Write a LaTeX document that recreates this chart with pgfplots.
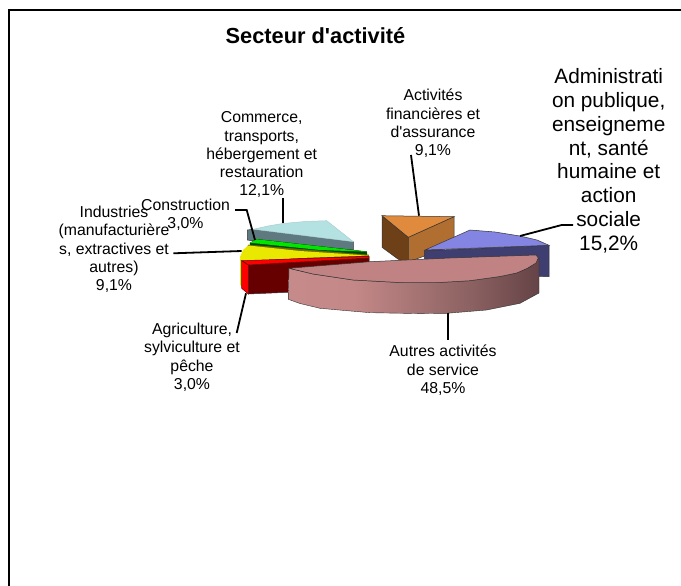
\documentclass[border=0pt]{standalone}
\usepackage{fontspec}
\setmainfont{Liberation Sans}
\newfontfamily\plainf{Liberation Sans}
\usepackage{pgfplots}
\pgfplotsset{compat=1.18}

\definecolor{commtop}{HTML}{B4E2E2}
\definecolor{commside}{HTML}{5E7A80}
\definecolor{gtop}{HTML}{00E400}
\definecolor{gside}{HTML}{004800}
\definecolor{ytop}{HTML}{E8E800}
\definecolor{yside}{HTML}{6E6E00}
\definecolor{rtop}{HTML}{FF0000}
\definecolor{rside}{HTML}{660000}
\definecolor{otop}{HTML}{DF8A3C}
\definecolor{oleft}{HTML}{6E4018}
\definecolor{oright}{HTML}{B06E30}
\definecolor{btop}{HTML}{8484E2}
\definecolor{bside}{HTML}{3E3E70}
\definecolor{ptop}{HTML}{C08282}
\definecolor{edge}{HTML}{333333}
\definecolor{sa}{HTML}{CA8E8E}
\definecolor{sb}{HTML}{C48888}
\definecolor{sc}{HTML}{8A6060}
\definecolor{sd}{HTML}{5C3C40}
\definecolor{se}{HTML}{5C4044}
\pgfdeclarehorizontalshading{sideshade}{100bp}{
  color(0bp)=(sa);
  color(38bp)=(sb);
  color(62bp)=(sc);
  color(78bp)=(sd);
  color(100bp)=(se)}

\newcommand{\lab}{\plainf\fontsize{15.8}{18.3}\selectfont}
\newcommand{\labbig}{\plainf\fontsize{20.8}{23.8}\selectfont}
\tikzset{
  slice/.style={draw=edge, line width=0.5pt},
  leader/.style={draw=black, line width=1.8pt},
  txt/.style={align=center, inner sep=0pt, text=black},
}

\begin{document}
\begin{tikzpicture}
\useasboundingbox (0,0) rectangle (681pt,586pt);
\begin{axis}[
  at={(0,0)}, anchor=south west,
  scale only axis, width=681pt, height=586pt,
  xmin=0, xmax=681, ymin=0, ymax=586, y dir=reverse,
  hide axis, clip=false,
  every axis plot/.append style={no marks, forget plot},
]
% cadre
\addplot[draw=black, line width=2pt] coordinates {(9,586) (9,10) (681,10)};

% commerce
\addplot[slice, fill=commside] coordinates {(247.3,230) (253.3,229.3) (353.3,241.7) (353.3,250) (300,248) (247.3,240)} -- cycle;
\addplot[slice, draw=commtop!80!gray, fill=commtop] coordinates {(253.3,229.3) (268,226) (283,223.5) (305,221.5) (326.7,220.7) (353.3,241.7)} -- cycle;
% construction
\addplot[slice, draw=gside, fill=gside] coordinates {(250,243) (256.7,239.3) (366.7,251.7) (367,256) (300,254) (250,247)} -- cycle;
\addplot[draw=none, fill=gtop] coordinates {(250,242.7) (256.7,239.3) (366.7,251.7) (320,250)} -- cycle;
% industries
\addplot[slice, draw=yside, fill=yside] coordinates {(248.3,245) (368.5,255) (369,260) (300,260) (243,262)} -- cycle;
\addplot[draw=none, fill=ytop] coordinates {(240,257) (243,250) (248.3,245.5) (300,251) (368,255.5) (300,258) (242,262)} -- cycle;
\addplot[draw=none, fill=ytop] coordinates {(240,257) (242,262) (243,287) (240,285)} -- cycle;
% agriculture
\addplot[slice, fill=rside] coordinates {(248.3,265) (369,258) (369,265) (300,272) (295,292) (248.3,294)} -- cycle;
\addplot[slice, draw=rside, fill=rtop] coordinates {(241.7,260.7) (369,256.3) (369,258) (248.3,265)} -- cycle;
\addplot[slice, draw=rside, fill=rtop] coordinates {(241.7,260.7) (248.3,265) (248.3,294) (241.7,288.3)} -- cycle;

% activites financieres
\addplot[slice, fill=oleft] coordinates {(382,215.7) (408.3,237.3) (408.3,262) (398.3,259.3) (382,247.3)} -- cycle;
\addplot[slice, fill=oright] coordinates {(408.3,237.3) (454,216.7) (454,245) (408.3,262)} -- cycle;
\addplot[slice, fill=otop] coordinates {(382,215.7) (454,216.7) (408.3,237.3)} -- cycle;

% administration
\addplot[slice, fill=bside] coordinates {(424.3,250.7) (549,245.3) (549,276.7) (530,276) (424.3,262)} -- cycle;
\addplot[slice, fill=btop] coordinates {(425,250) (470,230) (495,232) (520,236) (537,240) (549,245.3)} -- cycle;

% autres activites de service
\addplot[draw=edge, line width=0.4pt, shading=sideshade] coordinates {(289,268.3) (313,274) (353,280) (403,282.7) (436,282.7) (470,280.7) (500,276.5) (516.7,273) (530,267) (536,261) (539,258) (539,293) (520,303.3) (486.7,310) (446.7,313.3) (420,313.6) (370,312.7) (320,308.3) (300,303.5) (288.3,299.3)} -- cycle;
\addplot[slice, fill=ptop] coordinates {(289,268.3) (370,261.7) (450,258) (536,255) (538.3,258) (536,263) (527,268.5) (516.7,273) (500,276.5) (470,280.7) (436,282.7) (403,282.7) (353,280) (313,274)} -- cycle;

% lignes de rappel
\addplot[leader] coordinates {(283,223.3) (283,198.3)};
\addplot[leader] coordinates {(235,210) (246.7,210) (255,240)};
\addplot[leader] coordinates {(173.3,253.3) (241.7,251)};
\addplot[leader] coordinates {(246,293.3) (236.7,333)};
\addplot[leader] coordinates {(448.3,312.7) (448.3,340)};
\addplot[leader] coordinates {(411,155) (419,215.7)};
\addplot[leader] coordinates {(520,236) (561.7,225) (573,225)};

% textes
\node[txt, font=\plainf\fontsize{21.8}{25}\selectfont\bfseries] at (axis cs:315.5,36) {Secteur d'activité};
\node[txt, font=\lab, anchor=north] at (axis cs:261.7,111.5) {Commerce,\\transports,\\hébergement et\\restauration\\12,1\%};
\node[txt, font=\lab, anchor=north] at (axis cs:433,89) {Activités\\financières et\\d'assurance\\9,1\%};
\node[txt, font=\lab, anchor=north] at (axis cs:185.5,199) {Construction\\3,0\%};
\node[txt, font=\lab, anchor=north] at (axis cs:114,206) {Industries\\(manufacturière\\s, extractives et\\autres)\\9,1\%};
\node[txt, font=\lab, anchor=north] at (axis cs:192,323) {Agriculture,\\sylviculture et\\pêche\\3,0\%};
\node[txt, font=\lab, anchor=north] at (axis cs:443,345) {Autres activités\\de service\\48,5\%};
\node[txt, font=\labbig, anchor=north] at (axis cs:608.7,68.5) {Administrati\\on publique,\\enseigneme\\nt, santé\\humaine et\\action\\sociale\\15,2\%};
\end{axis}
\end{tikzpicture}
\end{document}
